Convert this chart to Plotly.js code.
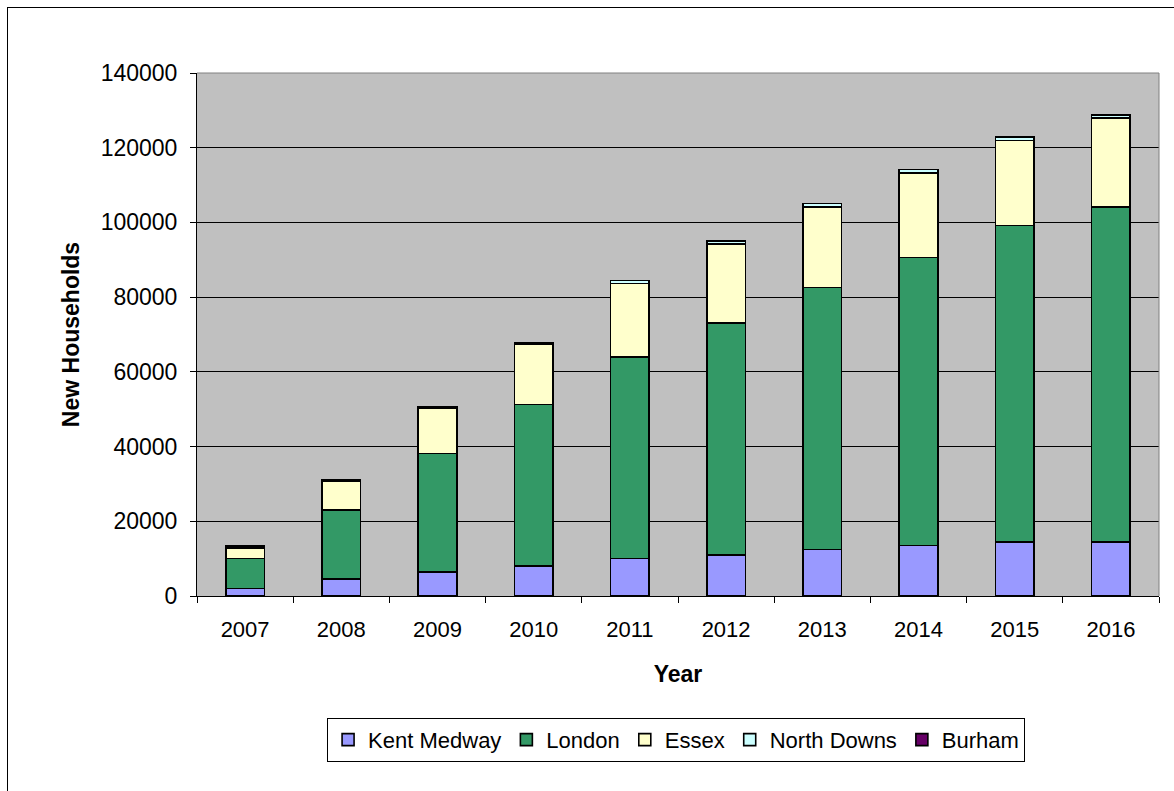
<!DOCTYPE html>
<html>
<head>
<meta charset="utf-8">
<script src="https://cdn.plot.ly/plotly-3.0.1.min.js"></script>
<style>
html,body{margin:0;padding:0;background:#fff;overflow:hidden;}
#frame{position:absolute;left:7px;top:7px;width:1200px;height:820px;border:1px solid #000;box-sizing:border-box;}
#chart{position:absolute;left:0;top:0;width:1174px;height:791px;}
</style>
</head>
<body>
<div id="frame"></div>
<div id="chart"></div>
<script>
const years = ['2007','2008','2009','2010','2011','2012','2013','2014','2015','2016'];
const kentMedway = [2000, 4500, 6500, 8000, 10000, 11000, 12500, 13500, 14500, 14500];
const london = [8000, 18500, 31700, 43300, 53900, 62000, 70100, 77100, 84700, 89700];
const essex = [2900, 7700, 12100, 16100, 19700, 21200, 21600, 22700, 22700, 23700];
const northDowns = [0, 0, 0, 0, 900, 900, 900, 900, 900, 900];
const burham = [500, 300, 400, 400, 0, 0, 0, 0, 0, 0];

const seriesNames = ['Kent Medway','London','Essex','North Downs','Burham'];
const seriesValues = [kentMedway, london, essex, northDowns, burham];
const seriesColors = ['#9999FF','#339966','#FFFFCC','#CCFFFF','#660066'];

const font = 'Liberation Sans, Arial, sans-serif';
const traces = seriesNames.map((n,i)=>({
  type:'bar', name:n, x:years, y:seriesValues[i],
  marker:{color:seriesColors[i], line:{color:'#000', width:1.6}},
  hoverinfo:'x+y+name'
}));

const layout = {
  width:1174, height:791,
  paper_bgcolor:'rgba(0,0,0,0)',
  plot_bgcolor:'#C0C0C0',
  barmode:'stack', bargap:0.6,
  margin:{l:197, r:15, t:73, b:195},
  font:{family:font, size:22, color:'#000'},
  showlegend:true,
  legend:{orientation:'h', x:0.498, xanchor:'center', y:-0.233, yanchor:'top',
    bordercolor:'#000', borderwidth:1, bgcolor:'#fff', font:{family:font, size:22},
    traceorder:'normal', itemwidth:30},
  xaxis:{type:'category', ticks:'outside', ticklen:6, tickcolor:'#000', tickson:'boundaries',
    showline:true, linecolor:'#000', linewidth:1, mirror:false,
    tickfont:{family:font, size:22}, ticklabelstandoff:14,
    title:{text:'<b>Year</b>', font:{family:font, size:23}, standoff:24}},
  yaxis:{range:[0,140000], dtick:20000, tickformat:'d', ticks:'outside', ticklen:6, tickcolor:'#000',
    showline:true, linecolor:'#000', linewidth:1, showgrid:true, gridcolor:'#000', gridwidth:1,
    zeroline:false, tickfont:{family:font, size:23}, ticklabelstandoff:8,
    title:{text:'<b>New Households</b>', font:{family:font, size:23}, standoff:14}},
  shapes:[
    {type:'line', xref:'paper', yref:'paper', x0:0, x1:1, y0:1, y1:1, line:{color:'#808080', width:1}},
    {type:'line', xref:'paper', yref:'paper', x0:1, x1:1, y0:0, y1:1, line:{color:'#808080', width:1}}
  ]
};
Plotly.newPlot('chart', traces, layout, {displayModeBar:false, staticPlot:true});
</script>
</body>
</html>
